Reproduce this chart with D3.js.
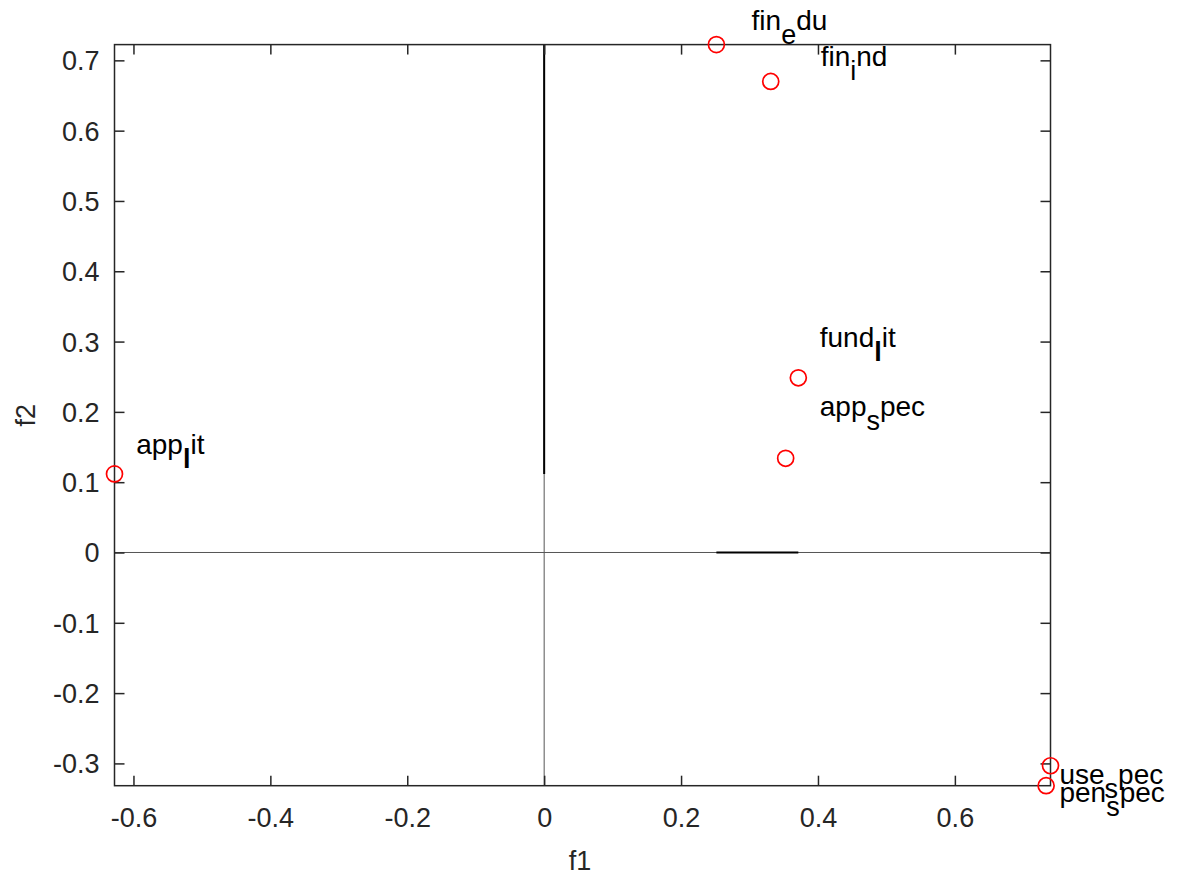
<!DOCTYPE html>
<html>
<head>
<meta charset="utf-8">
<script src="https://cdn.jsdelivr.net/npm/d3@7"></script>
<style>
  html, body { margin: 0; padding: 0; background: #fff; }
  svg { display: block; font-family: "Liberation Sans", Arial, Helvetica, sans-serif; }
</style>
</head>
<body>
<svg id="chart" width="1181" height="880"></svg>
<script>
// Factor loadings of each variable on f1 / f2
const names = ["fin_edu", "fin_ind", "fund_lit", "app_spec", "app_lit", "use_spec", "pen_spec"];
const f1 = [0.2516, 0.331, 0.3713, 0.3528, -0.6277, 0.7397, 0.7333];
const f2 = [0.7224, 0.670, 0.2485, 0.134, 0.1118, -0.3033, -0.3317];

// Text anchor (left, baseline) of each variable's label, in data units
const labelF1 = [0.303, 0.404, 0.4026, 0.4026, -0.596, 0.7528, 0.7528];
const labelF2 = [0.7437, 0.6915, 0.292, 0.1948, 0.1407, -0.3289, -0.3555];

// Tick values
const xTicks = [-0.6, -0.4, -0.2, 0, 0.2, 0.4, 0.6];
const yTicks = [-0.3, -0.2, -0.1, 0, 0.1, 0.2, 0.3, 0.4, 0.5, 0.6, 0.7];

// Reference lines through the origin, plus the overdrawn spans on them
const vSpan = [0.1118, 0.7224];   // along f1 = 0
const hSpan = [0.2516, 0.3713];   // along f2 = 0

const svg = d3.select("#chart");
const W = 1181, H = 880;
const m = { left: 114.5, right: W - 1050.5, top: 44.6, bottom: H - 785.7 };
const iw = W - m.left - m.right, ih = H - m.top - m.bottom;

// Tight limits around the data
const x = d3.scaleLinear().domain(d3.extent(f1)).range([m.left, m.left + iw]);
const y = d3.scaleLinear().domain(d3.extent(f2)).range([m.top + ih, m.top]);

const axisColor = "#262626";
const fontSize = 27;
const labelSize = 28;
const tickLen = 10;
const fmt = d => String(+d.toFixed(2)).replace("\u2212", "-");

// Zero lines (thin grey) spanning the plot box
svg.append("line")
  .attr("x1", x(0)).attr("x2", x(0))
  .attr("y1", y.range()[1]).attr("y2", y.range()[0])
  .attr("stroke", "#555").attr("stroke-width", 1);
svg.append("line")
  .attr("x1", x.range()[0]).attr("x2", x.range()[1])
  .attr("y1", y(0)).attr("y2", y(0))
  .attr("stroke", "#555").attr("stroke-width", 1);

// Overdrawn black spans
svg.append("line")
  .attr("x1", x(0)).attr("x2", x(0))
  .attr("y1", y(vSpan[0])).attr("y2", y(vSpan[1]))
  .attr("stroke", "#000").attr("stroke-width", 2);
svg.append("line")
  .attr("x1", x(hSpan[0])).attr("x2", x(hSpan[1]))
  .attr("y1", y(0)).attr("y2", y(0))
  .attr("stroke", "#000").attr("stroke-width", 2);

// Axes: ticks point inward, box with mirrored ticks
const gx = svg.append("g")
  .attr("transform", `translate(0,${m.top + ih})`)
  .call(d3.axisBottom(x).tickValues(xTicks).tickSizeInner(-tickLen).tickSizeOuter(0)
    .tickPadding(22).tickFormat(fmt));
const gy = svg.append("g")
  .attr("transform", `translate(${m.left},0)`)
  .call(d3.axisLeft(y).tickValues(yTicks).tickSizeInner(-tickLen).tickSizeOuter(0)
    .tickPadding(15).tickFormat(fmt));
const gxTop = svg.append("g")
  .attr("transform", `translate(0,${m.top})`)
  .call(d3.axisTop(x).tickValues(xTicks).tickSizeInner(-tickLen).tickSizeOuter(0).tickFormat(""));
const gyRight = svg.append("g")
  .attr("transform", `translate(${m.left + iw},0)`)
  .call(d3.axisRight(y).tickValues(yTicks).tickSizeInner(-tickLen).tickSizeOuter(0).tickFormat(""));

[gx, gy, gxTop, gyRight].forEach(g => {
  g.select(".domain").remove();
  g.selectAll(".tick line").attr("stroke", axisColor).attr("stroke-width", 1.5);
  g.selectAll(".tick text")
    .attr("fill", axisColor)
    .attr("font-size", fontSize)
    .attr("font-family", "Liberation Sans, Arial, sans-serif");
});
gy.selectAll(".tick text").attr("dy", "0.35em");

// Plot box
svg.append("rect")
  .attr("x", m.left).attr("y", m.top)
  .attr("width", iw).attr("height", ih)
  .attr("fill", "none").attr("stroke", axisColor).attr("stroke-width", 1.5);

// Axis titles
svg.append("text")
  .attr("x", 580).attr("y", 870)
  .attr("text-anchor", "middle")
  .attr("font-size", fontSize).attr("fill", axisColor)
  .text("f1");
svg.append("text")
  .attr("transform", `translate(35,${m.top + ih / 2}) rotate(-90)`)
  .attr("text-anchor", "middle")
  .attr("font-size", fontSize).attr("fill", axisColor)
  .text("f2");

// Markers
const idx = d3.range(names.length);
svg.append("g").selectAll("circle")
  .data(idx)
  .join("circle")
  .attr("cx", i => x(f1[i]))
  .attr("cy", i => y(f2[i]))
  .attr("r", 8)
  .attr("fill", "none")
  .attr("stroke", "#ff0000")
  .attr("stroke-width", 1.7);

// Labels: the character after "_" is typeset as a subscript
const subShift = 14;
const labels = svg.append("g").selectAll("text")
  .data(idx)
  .join("text")
  .attr("x", i => x(labelF1[i]))
  .attr("y", i => y(labelF2[i]))
  .attr("font-size", labelSize)
  .attr("fill", "#000");

labels.each(function (i) {
  const t = d3.select(this);
  const s = names[i];
  const k = s.indexOf("_");
  if (k < 0) { t.text(s); return; }
  t.append("tspan").text(s.slice(0, k));
  t.append("tspan").attr("dy", subShift).attr("font-size", 27)
    .attr("font-weight", s.charAt(k + 1) === "l" ? "bold" : null)
    .text(s.charAt(k + 1));
  t.append("tspan").attr("dy", -subShift).text(s.slice(k + 2));
});
</script>
</body>
</html>
